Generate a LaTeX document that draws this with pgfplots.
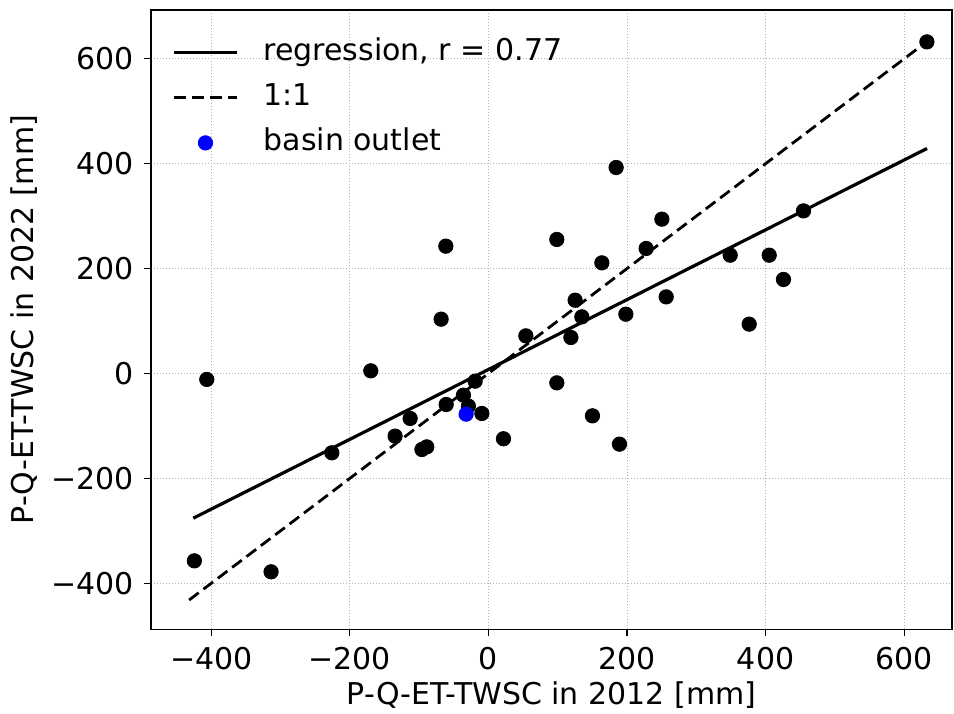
\documentclass[border=0pt]{standalone}
\usepackage{fontspec}
\setmainfont{DejaVu Sans}
\usepackage{pgfplots}
\pgfplotsset{compat=1.18}
\pgfplotsset{
  lineleg/.style={legend image code/.code={\draw[##1] (0pt,0pt) -- (31.5pt,0pt);}},
  markleg/.style={legend image code/.code={\draw[##1] plot coordinates {(15.75pt,0pt)};}},
}
\begin{document}
\fontsize{15pt}{18pt}\selectfont
\begin{tikzpicture}
\begin{axis}[
  name=ax,
  scale only axis,
  width=400.5pt, height=309.7pt,
  xmin=-487, xmax=669, ymin=-488, ymax=693,
  xtick={-400,-200,0,200,400,600},
  xticklabels={−400,−200,0,200,400,600},
  ytick={-400,-200,0,200,400,600},
  yticklabels={−400,−200,0,200,400,600},
  tick align=outside, xtick pos=bottom, ytick pos=left,
  major tick length=3.5pt,
  tick style={black, line width=0.6pt},
  axis line style={black, line width=0.7pt},
  grid=major,
  grid style={gray!60, line width=0.5pt, dash pattern=on 0.6pt off 0.9pt},
  tick label style={font=\fontsize{15pt}{18pt}\selectfont},
  label style={font=\fontsize{15pt}{18pt}\selectfont},
  xlabel={P-Q-ET-TWSC in 2012 [mm]},
  ylabel={P-Q-ET-TWSC in 2022 [mm]},
  xlabel style={yshift=4pt},
  ylabel style={yshift=-3.5pt},
  legend style={at={(0,1)}, anchor=north west, draw=none, fill=none,
    font=\fontsize{15pt}{18pt}\selectfont, row sep=4pt, column sep=10.5pt,
    nodes={text height=11pt, text depth=3.5pt},
    legend cell align=left, xshift=7.5pt, yshift=-10pt},
]
\addplot[black, line width=1.6pt, lineleg]
  coordinates {(-426,-276) (633,429)};
\addlegendentry{regression, r = 0.77}
\addplot[black, line width=1.4pt, dash pattern=on 6pt off 3pt, lineleg]
  coordinates {(-432,-432) (633,633)};
\addlegendentry{1:1}
\addplot[only marks, mark=*, mark size=3.6pt, black, forget plot] coordinates {
(-424.4,-357.3) (-313.7,-378.2) (-406.5,-11.4) (-226,-151.3) (-169.8,5)
(-134.7,-119.5) (-113,-85.8) (-96,-145) (-89,-140) (-68.3,103.5)
(-61.5,242.7) (-61,-59.2) (-36.1,-41.4) (-28.9,-62.3) (-19.2,-14.7)
(-9.5,-76.3) (21.7,-124.5) (54,71.7) (98.7,255.5) (98.7,-17.9)
(119,68.6) (125.1,139.7) (134.8,107.9) (150.1,-80.8) (163.7,210.9)
(184.3,392.7) (189.1,-134.8) (198.3,113) (227.6,238.3) (250.3,294.2)
(256.5,146) (348.9,225.5) (376.3,94) (405.2,225.5) (425.8,179.2)
(454.7,310) (632.8,632.2)
};
\addplot[only marks, mark=*, mark size=3.6pt, blue, mark options={draw=blue, fill=blue}, markleg]
  coordinates {(-32.2,-77.6)};
\addlegendentry{basin outlet}
\end{axis}
\pgfresetboundingbox
\path[use as bounding box] ([shift={(-75.5pt,-41.85pt)}]ax.south west) rectangle ([shift={(1pt,5pt)}]ax.north east);
\end{tikzpicture}
\end{document}
